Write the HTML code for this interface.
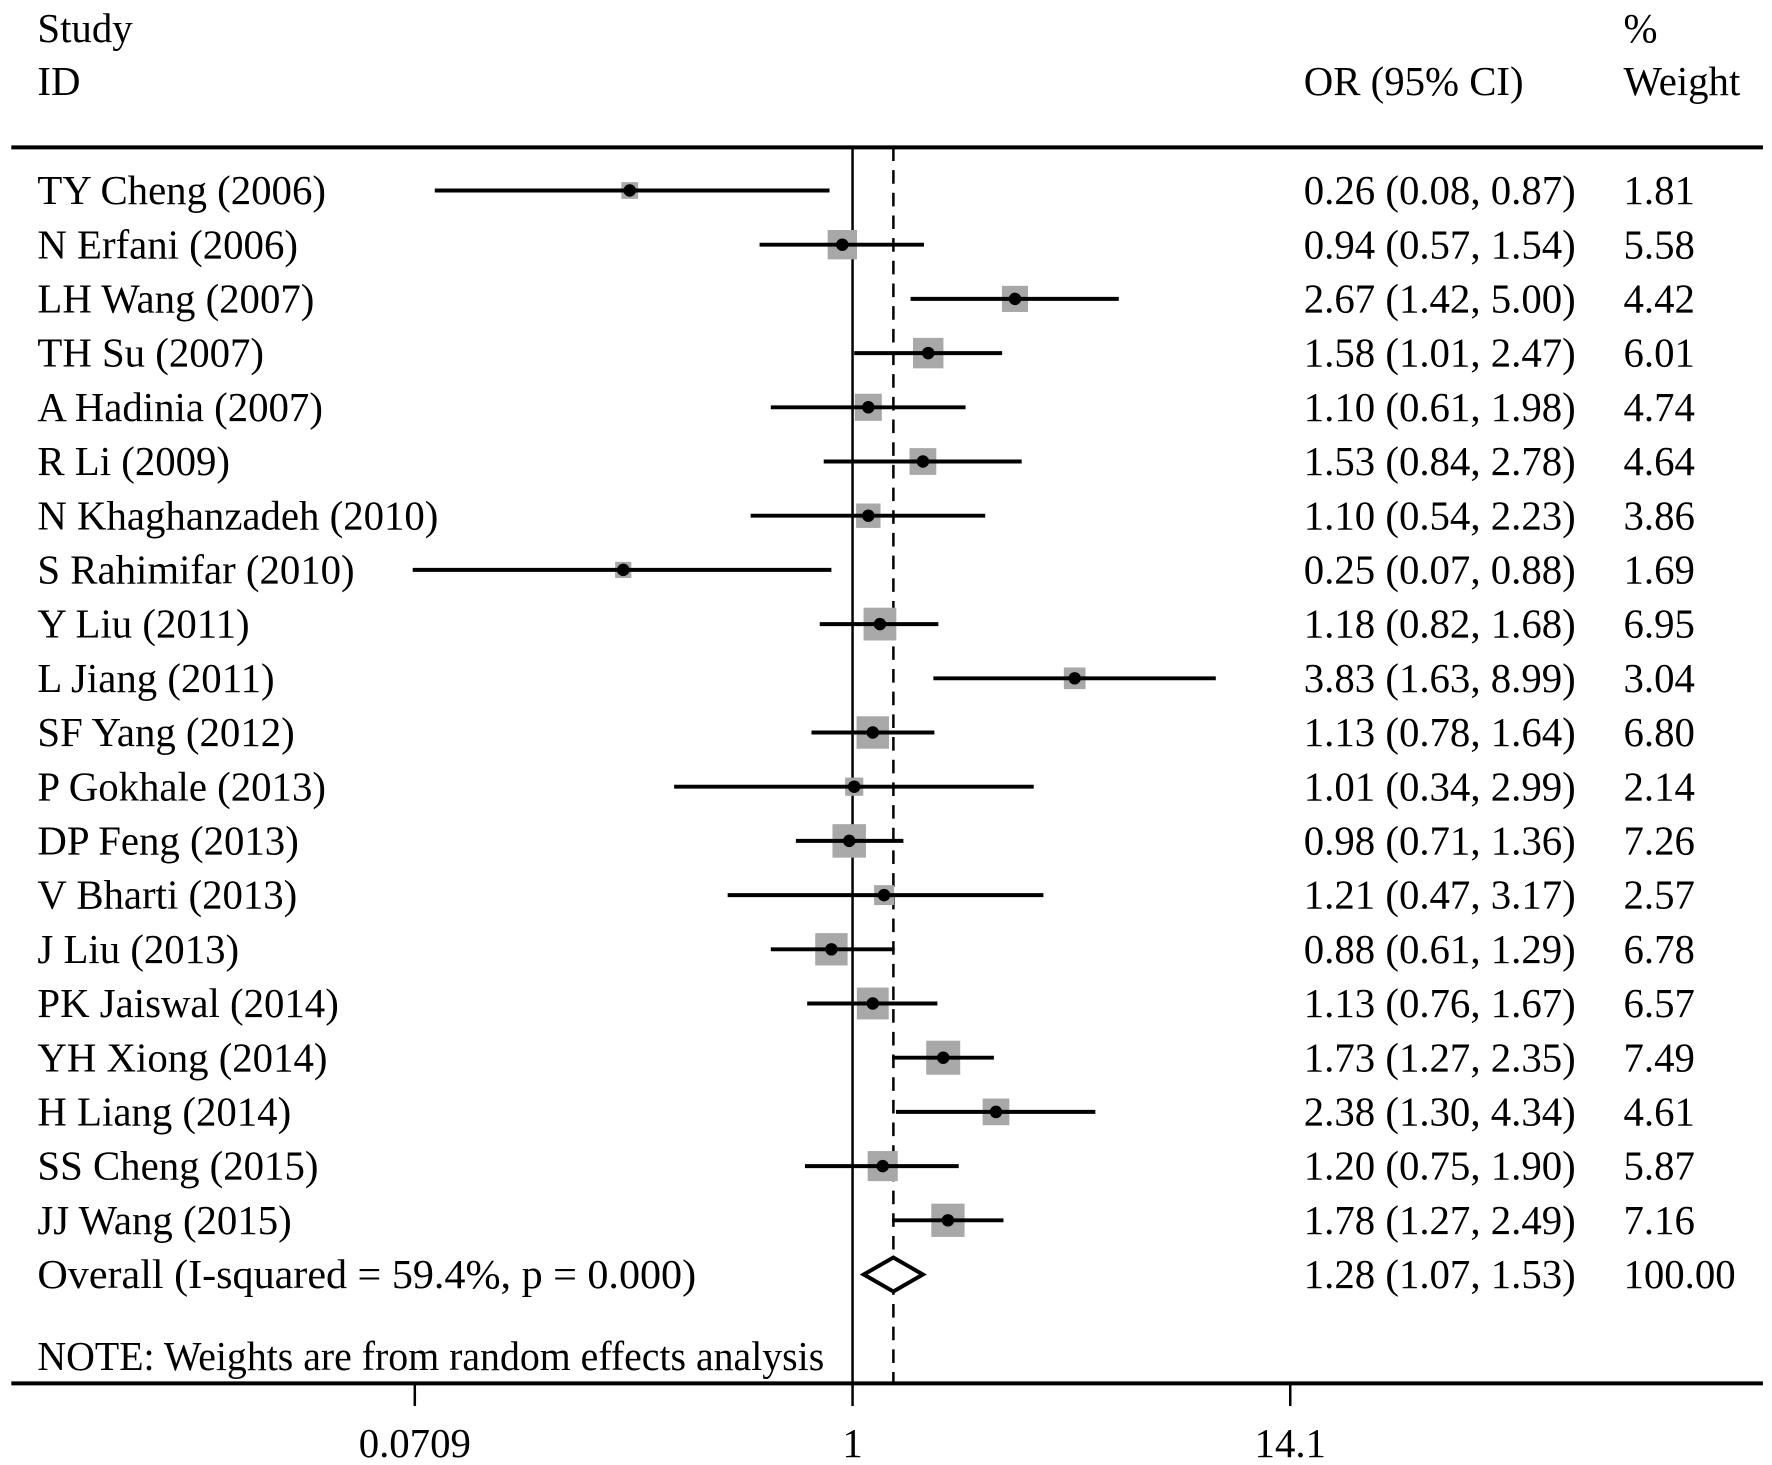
<!DOCTYPE html>
<html><head><meta charset="utf-8"><style>
html,body{margin:0;padding:0;background:#fff;}
svg{display:block;}
text{font-family:"Liberation Serif",serif;fill:#000;}
</style></head><body>
<svg id="chart" width="1772" height="1465" viewBox="0 0 1563 1292" preserveAspectRatio="none" xmlns="http://www.w3.org/2000/svg">
<text x="33" y="37" font-size="36">Study</text>
<text x="33" y="84" font-size="36">ID</text>
<text x="1150" y="84" font-size="36">OR (95% CI)</text>
<text x="1432" y="37" font-size="36">%</text>
<text x="1432" y="84" font-size="36">Weight</text>
<line x1="10" y1="130" x2="1555" y2="130" stroke="#000" stroke-width="3.5"/>
<line x1="10" y1="1220" x2="1555" y2="1220" stroke="#000" stroke-width="3.5"/>
<text x="33" y="1208" font-size="36" textLength="694" lengthAdjust="spacingAndGlyphs">NOTE: Weights are from random effects analysis</text>
<g id="marks"></g>
</svg>
<script>
const studies = ["TY Cheng (2006)","N Erfani (2006)","LH Wang (2007)","TH Su (2007)","A Hadinia (2007)","R Li (2009)","N Khaghanzadeh (2010)","S Rahimifar (2010)","Y Liu (2011)","L Jiang (2011)","SF Yang (2012)","P Gokhale (2013)","DP Feng (2013)","V Bharti (2013)","J Liu (2013)","PK Jaiswal (2014)","YH Xiong (2014)","H Liang (2014)","SS Cheng (2015)","JJ Wang (2015)"];
const orValues = [0.26,0.94,2.67,1.58,1.10,1.53,1.10,0.25,1.18,3.83,1.13,1.01,0.98,1.21,0.88,1.13,1.73,2.38,1.20,1.78];
const lowerCI = [0.08,0.57,1.42,1.01,0.61,0.84,0.54,0.07,0.82,1.63,0.78,0.34,0.71,0.47,0.61,0.76,1.27,1.30,0.75,1.27];
const upperCI = [0.87,1.54,5.00,2.47,1.98,2.78,2.23,0.88,1.68,8.99,1.64,2.99,1.36,3.17,1.29,1.67,2.35,4.34,1.90,2.49];
const weights = [1.81,5.58,4.42,6.01,4.74,4.64,3.86,1.69,6.95,3.04,6.80,2.14,7.26,2.57,6.78,6.57,7.49,4.61,5.87,7.16];
const overall = {label:"Overall  (I-squared = 59.4%, p = 0.000)", or:1.28, lo:1.07, hi:1.53, w:"100.00"};
const tickValues = [0.0709, 1, 14.1];
const tickLabels = ["0.0709","1","14.1"];

const NS="http://www.w3.org/2000/svg";
const g=document.getElementById('marks');
const x=v=>752+Math.log(v)*145.9;
const rowY=i=>168+i*47.8;
const f=v=>v.toFixed(2);
function mk(tag,attrs,parent){const e=document.createElementNS(NS,tag);for(const k in attrs)e.setAttribute(k,attrs[k]);(parent||g).appendChild(e);return e;}

let e=mk('line',{x1:x(1),y1:130,x2:x(1),y2:1220,stroke:'#000','stroke-width':2.2});


e=mk('line',{x1:x(overall.or),y1:130,x2:x(overall.or),y2:1220,stroke:'#000','stroke-width':2.2,'stroke-dasharray':'12,8'});



studies.forEach((s,i)=>{
  const y=rowY(i);
  const side=30*Math.sqrt(weights[i]/7.49);
  let t=mk('text',{x:33,y:y+12,'font-size':36});t.textContent=s;
  
  
  let r=mk('rect',{x:x(orValues[i])-side/2,y:y-side/2,width:side,height:side,fill:'#a8a8a8'});
  
  
  let l=mk('line',{x1:x(lowerCI[i]),y1:y,x2:x(upperCI[i]),y2:y,stroke:'#000','stroke-width':3.5});
  
  
  let p=mk('circle',{cx:x(orValues[i]),cy:y,r:5.5,fill:'#000'});
  
  
  let c=mk('text',{x:1150,y:y+12,'font-size':36});c.textContent=`${f(orValues[i])} (${f(lowerCI[i])}, ${f(upperCI[i])})`;
  
  
  let w=mk('text',{x:1432,y:y+12,'font-size':36});w.textContent=f(weights[i]);
  
  
});

const oy=rowY(20);
let ot=mk('text',{x:33,y:oy+12,'font-size':36,'xml:space':'preserve',textLength:581,lengthAdjust:'spacingAndGlyphs'});ot.textContent=overall.label;


let d=mk('path',{d:`M${x(overall.lo)},${oy} L${x(overall.or)},${oy-15} L${x(overall.hi)},${oy} L${x(overall.or)},${oy+15}Z`,fill:'#fff',stroke:'#000','stroke-width':3.5});


let oc=mk('text',{x:1150,y:oy+12,'font-size':36});oc.textContent=`${f(overall.or)} (${f(overall.lo)}, ${f(overall.hi)})`;


let ow=mk('text',{x:1432,y:oy+12,'font-size':36});ow.textContent=overall.w;



tickValues.forEach((v,i)=>{
  let tk=mk('line',{x1:x(v),y1:1220,x2:x(v),y2:1240,stroke:'#000','stroke-width':2.2});
  
  
  let tl=mk('text',{x:x(v),y:1285,'font-size':36,'text-anchor':'middle'});tl.textContent=tickLabels[i];
  
  
});
</script>
</body></html>
